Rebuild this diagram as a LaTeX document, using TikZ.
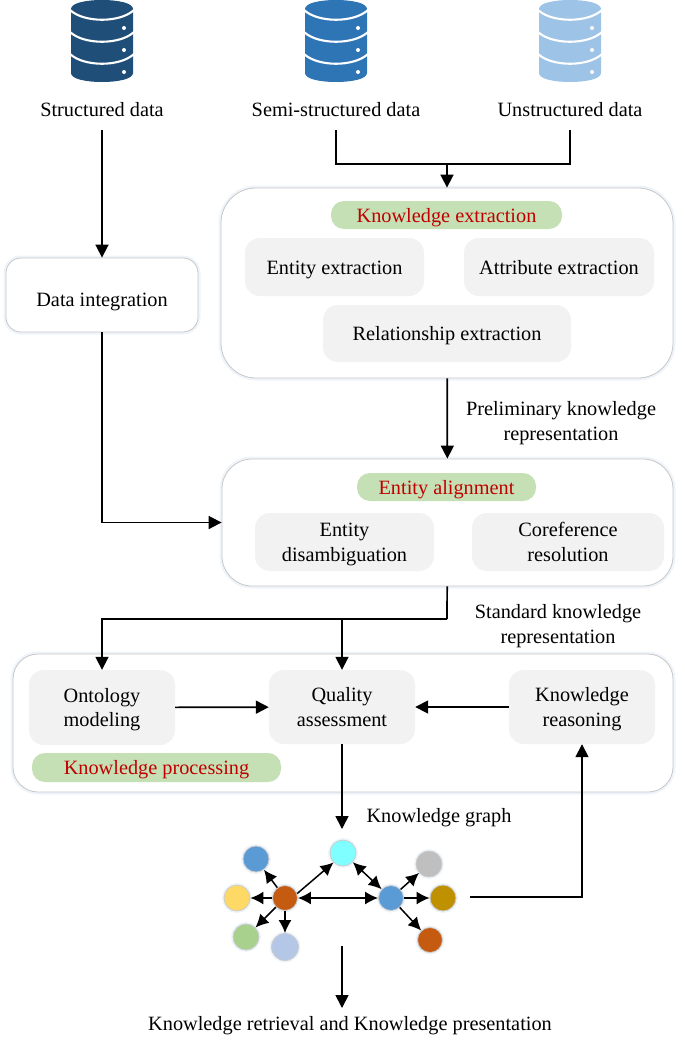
\documentclass[tikz,border=0pt]{standalone}
\usepackage{fontspec}
\setmainfont{Liberation Serif}
\usetikzlibrary{positioning, fit, arrows.meta}

\definecolor{dbdark}{HTML}{1F4E79}
\definecolor{dbmid}{HTML}{2E75B6}
\definecolor{dblight}{HTML}{9DC3E6}
\definecolor{pillgreen}{HTML}{C5E0B4}
\definecolor{boxgrey}{HTML}{F2F2F2}
\definecolor{titlered}{HTML}{C00000}
\definecolor{gblue}{HTML}{5B9BD5}
\definecolor{gyellow}{HTML}{FFD966}
\definecolor{ggreen}{HTML}{A9D18E}
\definecolor{gperi}{HTML}{B4C7E7}
\definecolor{gorange}{HTML}{C55A11}
\definecolor{gcyan}{HTML}{7FFFFF}
\definecolor{ggrey}{HTML}{BFBFBF}
\definecolor{ggold}{HTML}{BF9000}

\newcommand{\linestrut}{\rule[-5pt]{0pt}{24pt}}
\newcommand{\firstrow}{\rule{0pt}{19pt}}

\begin{document}
\begin{tikzpicture}[
        x = 1pt,
        y = -1pt,
        every node/.style = {
                font=\fontsize{20.3}{24.5}\selectfont, inner sep=0pt, align=center,
                execute at begin node=\linestrut, execute at end node=\linestrut
            },
        srclabel/.style   = {minimum height=42pt},
        container/.style  = {
                draw=black!22, line width=0.8pt, fill=white, rounded corners=#1,
                preaction={draw=dblight!35, line width=5pt, opacity=0.5}
            },
        softbox/.style    = {fill=boxgrey, rounded corners=15pt},
        pill/.style       = {fill=pillgreen, rounded corners=13pt, text=titlered},
        flow/.style       = {draw, line width=1.7pt, -{Triangle[length=13pt,width=13pt]}},
        line/.style       = {draw, line width=1.7pt},
        gnode/.style      = {
                circle, minimum size=#1, draw=black!20, line width=0.8pt,
                preaction={draw=dblight!40, line width=4pt, opacity=0.45}
            },
        glink/.style      = {draw, line width=1.5pt, -{Latex[length=13pt,width=13pt]}},
        gboth/.style      = {draw, line width=1.5pt, {Latex[length=13pt,width=13pt]}-{Latex[length=13pt,width=13pt]}},
        pics/dbicon/.style = {
                code = {
                        \fill[#1] (-31,9) -- (-31,73) .. controls (-31,79) and (-16,82) .. (0,82)
                        .. controls (16,82) and (31,79) .. (31,73) -- (31,9)
                        .. controls (31,3) and (16,0) .. (0,0) .. controls (-16,0) and (-31,3) .. (-31,9) -- cycle;
                        \foreach \yy in {10,32,54} {
                                \draw[white, line width=2.1pt] (-32,\yy) .. controls (-18,\yy+13) and (18,\yy+13) .. (32,\yy);
                                \fill[white] (22,\yy+18) circle (2);
                            }
                    }
            },
    ]
    \useasboundingbox (0,0) rectangle (685,1044);

    % data sources
    \pic at (102,0) {dbicon=dbdark};
    \pic at (336,0) {dbicon=dbmid};
    \pic at (570,0) {dbicon=dblight};
    \node [srclabel] (sdata) at (102,109) {Structured data};
    \node [srclabel] (ssdata) at (336,109) {Semi-structured data};
    \node [srclabel] (udata) at (570,109) {Unstructured data};

    % knowledge extraction
    \node [container=35pt, minimum width=452pt, minimum height=190pt] (kext) at (447,283) {};
    \node [pill, minimum width=231pt, minimum height=28pt] (ktitle) at (446.5,215) {Knowledge extraction};
    \node [softbox, minimum width=179pt, minimum height=58pt] (eext) at (334.5,267) {Entity extraction};
    \node [softbox, minimum width=190pt, minimum height=58pt] (aext) at (559,267) {Attribute extraction};
    \node [softbox, minimum width=248pt, minimum height=57pt] (rext) at (447,333.5) {Relationship extraction};

    % data integration
    \node [container=15pt, minimum width=192pt, minimum height=74pt] (integ) at (102,295) {};
    \node (integtext) at (102,299) {Data integration};

    % entity alignment
    \node [container=30pt, minimum width=451pt, minimum height=127pt] (align) at (447.5,522.5) {};
    \node [pill, minimum width=179pt, minimum height=28pt] (atitle) at (446.5,487) {Entity alignment};
    \node [softbox, minimum width=179pt, minimum height=58pt] (disamb) at (344.5,542) {\firstrow Entity\\disambiguation};
    \node [softbox, minimum width=192pt, minimum height=58pt] (coref) at (568,542) {\firstrow Coreference\\resolution};

    % knowledge processing
    \node [container=25pt, minimum width=660pt, minimum height=138pt] (kproc) at (343,723) {};
    \node [softbox, minimum width=146pt, minimum height=75pt] (onto) at (102,707.5) {\firstrow Ontology\\modeling};
    \node [softbox, minimum width=146pt, minimum height=74pt] (quality) at (342,707) {\firstrow Quality\\assessment};
    \node [softbox, minimum width=146pt, minimum height=74pt] (reason) at (582,707) {\firstrow Knowledge\\reasoning};
    \node [pill, minimum width=249pt, minimum height=29pt] (ptitle) at (156.5,767.5) {Knowledge processing};

    % free labels
    \node (prelim) at (561,421) {\firstrow Preliminary knowledge\\representation};
    \node (stand) at (558,624) {\firstrow Standard knowledge\\representation};
    \node (kglabel) at (439,815) {Knowledge graph};
    \node (retrieval) at (350,1023) {Knowledge retrieval and Knowledge presentation};

    % knowledge graph
    \node [gnode=26pt, fill=gblue] (g1) at (256,859) {};
    \node [gnode=26pt, fill=gyellow] (g2) at (237,898) {};
    \node [gnode=26pt, fill=ggreen] (g3) at (246,937) {};
    \node [gnode=27pt, fill=gperi] (g4) at (285,947) {};
    \node [gnode=25pt, fill=gorange] (g5) at (285,898) {};
    \node [gnode=26pt, fill=gcyan] (g6) at (343,853) {};
    \node [gnode=25pt, fill=gblue] (g7) at (391,898) {};
    \node [gnode=26pt, fill=ggrey] (g8) at (429,864) {};
    \node [gnode=26pt, fill=ggold] (g9) at (443,898) {};
    \node [gnode=25pt, fill=gorange] (g10) at (430,940) {};

    \foreach \gto in {g1, g2, g3, g4}
    \draw [glink] (g5) -- (\gto);
    \draw [glink] (g5.20) -- (g6.225);
    \foreach \gto in {g8, g9, g10}
    \draw [glink] (g7) -- (\gto);
    \draw [gboth] (g5) -- (g7);
    \draw [gboth] (g6) -- (g7);

    % connectors
    \coordinate (join1) at (447,164);
    \coordinate (join2) at (447,619);
    \coordinate (graphin) at (342,829);
    \coordinate (graphout) at (470,897);
    \coordinate (graphbot) at (342,946);
    \coordinate (retrtop) at (342,1008);

    \draw [flow] (sdata) -- (integ);
    \draw [line] (ssdata.south) |- (join1);
    \draw [line] (udata.south) |- (join1);
    \draw [flow] (join1) -- (kext);
    \draw [flow] (integ) |- (align);
    \draw [flow] (kext) -- (align);
    \draw [line] (align) -- (join2);
    \draw [flow] (join2) -| (onto);
    \draw [flow] (join2) -| (quality);
    \draw [flow] (onto) -- (quality);
    \draw [flow] (reason) -- (quality);
    \draw [flow] (quality) -- (graphin);
    \draw [flow] (graphout) -| (reason);
    \draw [flow] (graphbot) -- (retrtop);
\end{tikzpicture}
\end{document}
